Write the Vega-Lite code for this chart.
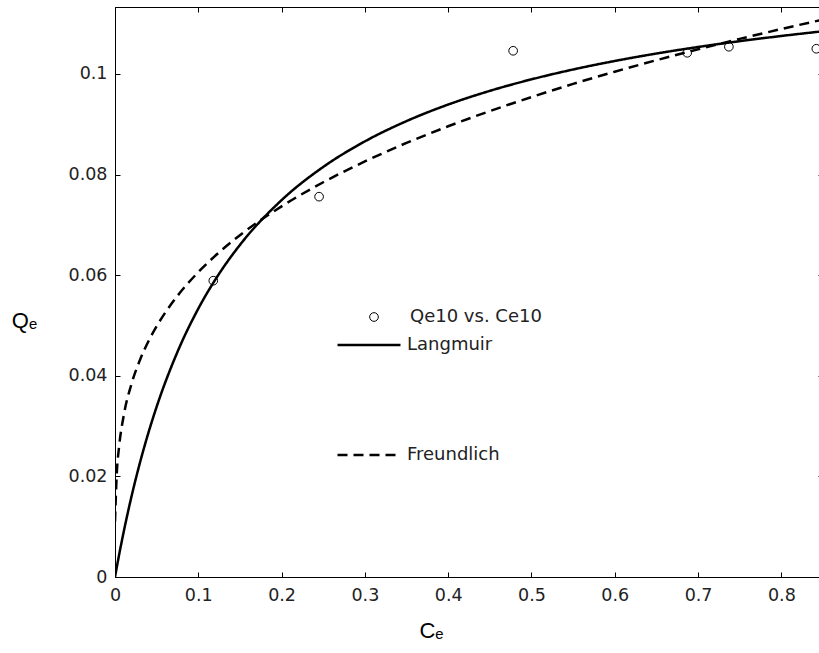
{
  "$schema": "https://vega.github.io/schema/vega-lite/v6.json",
  "autosize": {"type": "none"},
  "padding": {"left": 115, "top": 7, "right": 0, "bottom": 76},
  "width": 708,
  "height": 570,
  "background": "white",
  "config": {
    "view": {"stroke": "black", "strokeWidth": 1},
    "axis": {
      "grid": false,
      "domainColor": "black",
      "tickColor": "black",
      "tickSize": -5,
      "labelFlush": false,
      "labelFont": "DejaVu Sans",
      "labelFontSize": 17.5,
      "labelColor": "#222222",
      "titleFont": "Liberation Sans",
      "titleFontSize": 22,
      "titleFontWeight": "normal",
      "titleColor": "black"
    },
    "legend": {
      "labelFont": "DejaVu Sans",
      "labelFontSize": 18,
      "labelColor": "#222222",
      "padding": 0
    }
  },
  "datasets": {
    "obs": [
      {"C": 0.118, "Q": 0.0589, "series": "Qe10 vs. Ce10"},
      {"C": 0.245, "Q": 0.0756, "series": "Qe10 vs. Ce10"},
      {"C": 0.478, "Q": 0.1046, "series": "Qe10 vs. Ce10"},
      {"C": 0.687, "Q": 0.1042, "series": "Qe10 vs. Ce10"},
      {"C": 0.737, "Q": 0.1054, "series": "Qe10 vs. Ce10"},
      {"C": 0.842, "Q": 0.105, "series": "Qe10 vs. Ce10"}
    ],
    "fits": [
      {"C": 0, "Q": 0, "model": "Langmuir"},
      {"C": 0.005, "Q": 0.00447, "model": "Langmuir"},
      {"C": 0.01, "Q": 0.00862, "model": "Langmuir"},
      {"C": 0.02, "Q": 0.01614, "model": "Langmuir"},
      {"C": 0.03, "Q": 0.02275, "model": "Langmuir"},
      {"C": 0.04, "Q": 0.02861, "model": "Langmuir"},
      {"C": 0.05, "Q": 0.03384, "model": "Langmuir"},
      {"C": 0.075, "Q": 0.04474, "model": "Langmuir"},
      {"C": 0.1, "Q": 0.05334, "model": "Langmuir"},
      {"C": 0.125, "Q": 0.06028, "model": "Langmuir"},
      {"C": 0.15, "Q": 0.06601, "model": "Langmuir"},
      {"C": 0.2, "Q": 0.07491, "model": "Langmuir"},
      {"C": 0.25, "Q": 0.08151, "model": "Langmuir"},
      {"C": 0.3, "Q": 0.08659, "model": "Langmuir"},
      {"C": 0.35, "Q": 0.09062, "model": "Langmuir"},
      {"C": 0.4, "Q": 0.09391, "model": "Langmuir"},
      {"C": 0.45, "Q": 0.09663, "model": "Langmuir"},
      {"C": 0.5, "Q": 0.09892, "model": "Langmuir"},
      {"C": 0.55, "Q": 0.10088, "model": "Langmuir"},
      {"C": 0.6, "Q": 0.10257, "model": "Langmuir"},
      {"C": 0.65, "Q": 0.10405, "model": "Langmuir"},
      {"C": 0.7, "Q": 0.10535, "model": "Langmuir"},
      {"C": 0.75, "Q": 0.10651, "model": "Langmuir"},
      {"C": 0.8, "Q": 0.10754, "model": "Langmuir"},
      {"C": 0.85, "Q": 0.10848, "model": "Langmuir"},
      {"C": 0, "Q": 0.011, "model": "Freundlich"},
      {"C": 0.002, "Q": 0.02011, "model": "Freundlich"},
      {"C": 0.005, "Q": 0.02603, "model": "Freundlich"},
      {"C": 0.01, "Q": 0.03166, "model": "Freundlich"},
      {"C": 0.02, "Q": 0.03849, "model": "Freundlich"},
      {"C": 0.03, "Q": 0.04315, "model": "Freundlich"},
      {"C": 0.04, "Q": 0.0468, "model": "Freundlich"},
      {"C": 0.05, "Q": 0.04983, "model": "Freundlich"},
      {"C": 0.075, "Q": 0.05588, "model": "Freundlich"},
      {"C": 0.1, "Q": 0.0606, "model": "Freundlich"},
      {"C": 0.125, "Q": 0.06453, "model": "Freundlich"},
      {"C": 0.15, "Q": 0.06794, "model": "Freundlich"},
      {"C": 0.2, "Q": 0.07368, "model": "Freundlich"},
      {"C": 0.25, "Q": 0.07846, "model": "Freundlich"},
      {"C": 0.3, "Q": 0.0826, "model": "Freundlich"},
      {"C": 0.35, "Q": 0.08628, "model": "Freundlich"},
      {"C": 0.4, "Q": 0.08959, "model": "Freundlich"},
      {"C": 0.45, "Q": 0.09261, "model": "Freundlich"},
      {"C": 0.5, "Q": 0.0954, "model": "Freundlich"},
      {"C": 0.55, "Q": 0.09801, "model": "Freundlich"},
      {"C": 0.6, "Q": 0.10044, "model": "Freundlich"},
      {"C": 0.65, "Q": 0.10273, "model": "Freundlich"},
      {"C": 0.7, "Q": 0.1049, "model": "Freundlich"},
      {"C": 0.75, "Q": 0.10696, "model": "Freundlich"},
      {"C": 0.8, "Q": 0.10892, "model": "Freundlich"},
      {"C": 0.85, "Q": 0.11081, "model": "Freundlich"}
    ]
  },
  "layer": [
    {
      "data": {"name": "fits"},
      "mark": {"type": "line", "color": "black", "strokeWidth": 2.5, "clip": true, "interpolate": "monotone"},
      "encoding": {
        "x": {
          "field": "C", "type": "quantitative",
          "scale": {"domain": [0, 0.85], "nice": false, "zero": false},
          "axis": {
            "orient": "bottom",
            "values": [0, 0.1, 0.2, 0.3, 0.4, 0.5, 0.6, 0.7, 0.8],
            "format": "~g",
            "labelPadding": 14,
            "title": "Cₑ",
            "titleX": 316,
            "titleY": 53,
            "titleAnchor": "middle",
            "titleAlign": "center",
            "titleBaseline": "middle"
          }
        },
        "y": {
          "field": "Q", "type": "quantitative",
          "scale": {"domain": [0, 0.1133], "nice": false, "zero": false},
          "axis": {
            "orient": "left",
            "values": [0, 0.02, 0.04, 0.06, 0.08, 0.1],
            "format": "~g",
            "labelPadding": 13,
            "title": "Qₑ",
            "titleAngle": 0,
            "titleX": -91,
            "titleY": 313,
            "titleAlign": "center",
            "titleBaseline": "middle"
          }
        },
        "strokeDash": {
          "field": "model", "type": "nominal",
          "scale": {"domain": ["Langmuir", "Freundlich"], "range": [[1, 0], [10, 6]]},
          "legend": {
            "orient": "none",
            "legendX": 221,
            "legendY": 305,
            "title": null,
            "symbolType": "stroke",
            "symbolSize": 3969,
            "symbolStrokeWidth": 2.5,
            "symbolStrokeColor": "black",
            "labelOffset": 5,
            "rowPadding": 68
          }
        }
      }
    },
    {
      "data": {"name": "obs"},
      "mark": {"type": "point", "filled": false, "color": "black", "size": 75, "strokeWidth": 1, "opacity": 1},
      "encoding": {
        "x": {
          "field": "C", "type": "quantitative",
          "scale": {"domain": [0, 0.85], "nice": false, "zero": false},
          "axis": {"orient": "top", "values": [0, 0.1, 0.2, 0.3, 0.4, 0.5, 0.6, 0.7, 0.8], "labels": false, "title": null}
        },
        "y": {
          "field": "Q", "type": "quantitative",
          "scale": {"domain": [0, 0.1133], "nice": false, "zero": false},
          "axis": {"orient": "right", "values": [0, 0.02, 0.04, 0.06, 0.08, 0.1], "labels": false, "title": null}
        },
        "shape": {
          "field": "series", "type": "nominal",
          "scale": {"domain": ["Qe10 vs. Ce10"], "range": ["circle"]},
          "legend": {
            "orient": "none",
            "legendX": 250,
            "legendY": 301,
            "title": null,
            "symbolSize": 75,
            "symbolStrokeColor": "black",
            "symbolFillColor": "transparent",
            "symbolStrokeWidth": 1,
            "labelOffset": 27
          }
        }
      }
    }
  ],
  "resolve": {"axis": {"x": "independent", "y": "independent"}}
}
